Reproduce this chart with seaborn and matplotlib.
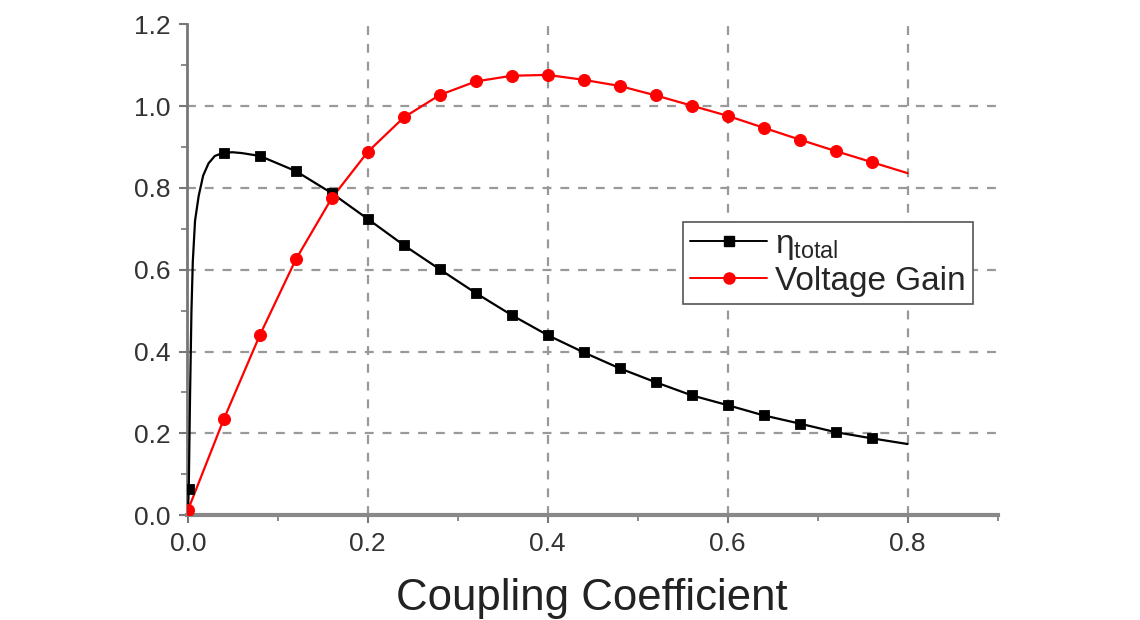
import matplotlib
matplotlib.use("Agg")
import matplotlib.pyplot as plt
import seaborn as sns
import pandas as pd
from matplotlib.lines import Line2D
from matplotlib.ticker import MultipleLocator

# ---- data ----
# efficiency curve (line), dense near zero where it rises steeply
eta_line_x = [0.0, 0.001, 0.0025, 0.004, 0.0055, 0.008, 0.012, 0.017, 0.023, 0.03, 0.04, 0.05, 0.06,
              0.08, 0.12, 0.16, 0.20, 0.24, 0.28, 0.32, 0.36, 0.40, 0.44, 0.48, 0.52,
              0.56, 0.60, 0.64, 0.68, 0.72, 0.76, 0.80]
eta_line_y = [0.0, 0.065, 0.30, 0.50, 0.62, 0.72, 0.78, 0.83, 0.86, 0.878, 0.886, 0.887, 0.885,
              0.878, 0.841, 0.787, 0.724, 0.660, 0.601, 0.543, 0.489, 0.440, 0.398, 0.359, 0.325,
              0.293, 0.269, 0.244, 0.224, 0.203, 0.188, 0.174]
# efficiency markers
eta_mark_x = [0.001, 0.04, 0.08, 0.12, 0.16, 0.20, 0.24, 0.28, 0.32, 0.36, 0.40, 0.44,
              0.48, 0.52, 0.56, 0.60, 0.64, 0.68, 0.72, 0.76]
eta_mark_y = [0.065, 0.885, 0.878, 0.841, 0.787, 0.724, 0.660, 0.601, 0.543, 0.489, 0.440, 0.398,
              0.359, 0.325, 0.293, 0.269, 0.244, 0.224, 0.203, 0.188]

# voltage gain
gain_line_x = [0.0, 0.04, 0.08, 0.12, 0.16, 0.20, 0.24, 0.28, 0.32, 0.36, 0.40, 0.44,
               0.48, 0.52, 0.56, 0.60, 0.64, 0.68, 0.72, 0.76, 0.80]
gain_line_y = [0.012, 0.235, 0.440, 0.625, 0.775, 0.888, 0.972, 1.027, 1.060, 1.074, 1.076, 1.064,
               1.049, 1.026, 1.001, 0.976, 0.947, 0.918, 0.890, 0.863, 0.836]
gain_mark_x = gain_line_x[:-1]
gain_mark_y = gain_line_y[:-1]

x_ticks = [0.0, 0.2, 0.4, 0.6, 0.8]
y_ticks = [0.0, 0.2, 0.4, 0.6, 0.8, 1.0, 1.2]
x_label = "Coupling Coefficient"
labels = [r"$\mathregular{\eta_{total}}$", "Voltage Gain"]

# ---- style ----
sns.set_theme(style="white")
plt.rcParams["font.family"] = ["Liberation Sans", "DejaVu Sans"]
plt.rcParams["mathtext.fontset"] = "custom"
plt.rcParams["mathtext.rm"] = "Liberation Sans"
plt.rcParams["mathtext.it"] = "Liberation Sans"

fig = plt.figure(figsize=(11.4, 6.2), dpi=100)
ax = fig.add_axes([0.164, 0.169, 0.711, 0.792])

df_eta = pd.DataFrame({"x": eta_line_x, "y": eta_line_y})
df_gain = pd.DataFrame({"x": gain_line_x, "y": gain_line_y})
sns.lineplot(data=df_eta, x="x", y="y", ax=ax, color="black", linewidth=1.6,
             sort=False, estimator=None, zorder=4)
sns.lineplot(data=df_gain, x="x", y="y", ax=ax, color="#ff0000", linewidth=1.6,
             sort=False, estimator=None, zorder=3)
sns.scatterplot(x=eta_mark_x, y=eta_mark_y, ax=ax, marker="s", s=55, color="black",
                edgecolor="black", zorder=5)
sns.scatterplot(x=gain_mark_x, y=gain_mark_y, ax=ax, marker="o", s=75, color="#ff0000",
                edgecolor="#ff0000", zorder=5)

ax.set_xlim(-0.001, 0.9)
ax.set_ylim(0.0, 1.2)
ax.set_xticks(x_ticks)
ax.set_yticks(y_ticks)
ax.set_xticklabels([f"{v:.1f}" for v in x_ticks])
ax.set_yticklabels([f"{v:.1f}" for v in y_ticks])
ax.xaxis.set_minor_locator(MultipleLocator(0.1))
ax.yaxis.set_minor_locator(MultipleLocator(0.1))
ax.tick_params(axis="both", which="major", direction="out", length=6, width=1.5,
               color="#777777", labelsize=19, labelcolor="#333333", pad=6)
ax.tick_params(axis="both", which="minor", direction="out", length=4, width=1.2,
               color="#777777")
ax.tick_params(axis="x", which="both", bottom=True)
ax.tick_params(axis="y", which="both", left=True)

ax.set_xlabel(x_label, fontsize=31.5, color="#222222", labelpad=16)
ax.set_ylabel("")

# grid: dashed at interior major ticks
ax.grid(False)
for xv in x_ticks[1:]:
    ax.axvline(xv, color="#999999", linestyle=(0, (4, 4)), linewidth=1.6, zorder=1)
for yv in y_ticks[1:-1]:
    ax.axhline(yv, color="#999999", linestyle=(0, (4, 4)), linewidth=1.6, zorder=1)

for side in ["top", "right"]:
    ax.spines[side].set_visible(False)
ax.spines["left"].set_color("#777777")
ax.spines["left"].set_linewidth(2.0)
ax.spines["bottom"].set_color("#888888")
ax.spines["bottom"].set_linewidth(3.0)

handles = [
    Line2D([], [], color="black", marker="s", markersize=7, linewidth=1.4),
    Line2D([], [], color="#ff0000", marker="o", markersize=8, linewidth=1.4),
]
leg = ax.legend(handles, labels, loc="upper left", bbox_to_anchor=(0.612, 0.598),
                fontsize=24, frameon=True, fancybox=False, framealpha=1,
                handlelength=2.3, handletextpad=0.25, borderpad=0.22, labelspacing=0.12,
                borderaxespad=0)
leg.get_frame().set_edgecolor("#555555")
leg.get_frame().set_linewidth(1.2)

fig.savefig("out.png", dpi=100, facecolor="white")
